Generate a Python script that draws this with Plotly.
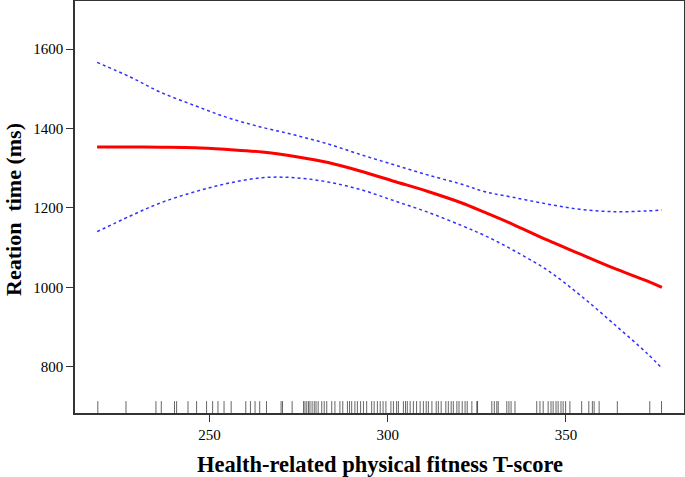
import plotly.graph_objects as go

# Fitted curve and confidence band
x_curve = [218.5, 227.8, 236.2, 246.0, 255.2, 264.8, 274.0, 283.3, 292.8, 302.0,
           311.3, 320.8, 327.3, 335.1, 344.7, 353.9, 363.2, 372.7, 376.9]
fit = [1353.5, 1353.5, 1353.0, 1351.7, 1347.2, 1340.9, 1329.6, 1314.5, 1291.8, 1266.7,
       1241.5, 1212.6, 1188.7, 1159.0, 1119.5, 1084.3, 1049.1, 1016.4, 1000.0]
upper = [1566.5, 1529.6, 1491.8, 1457.4, 1427.2, 1403.0, 1383.6, 1361.0, 1333.3, 1308.2,
         1283.0, 1259.6, 1241.0, 1226.9, 1210.1, 1196.7, 1190.7, 1192.5, 1195.0]
lower = [1140.4, 1179.9, 1212.6, 1241.0, 1262.1, 1276.2, 1276.2, 1265.3, 1245.3, 1217.6,
         1189.2, 1155.5, 1130.3, 1094.3, 1044.0, 981.1, 909.9, 834.5, 796.8]

# Rug (observed T-scores)
rug_x = [218.7, 226.6, 235.0, 236.5, 240.2, 240.8, 244.0, 246.4, 249.2, 250.9, 252.4, 254.1,
         256.1, 260.2, 261.5, 262.8, 264.1, 266.0, 270.1, 270.5, 273.2, 276.4, 276.8, 277.3,
         277.8, 278.2, 278.8, 279.4, 279.9, 280.5, 281.5, 282.2, 282.9, 284.3, 285.2, 286.6,
         287.4, 288.7, 289.3, 289.9, 290.8, 291.5, 292.4, 293.2, 294.1, 295.5, 296.2, 297.1,
         297.9, 298.7, 299.5, 300.9, 301.6, 302.5, 303.0, 304.4, 305.0, 305.5, 306.3, 307.2,
         308.1, 309.1, 310.0, 310.8, 311.4, 312.4, 313.6, 314.2, 315.0, 316.3, 317.0, 317.8,
         318.4, 319.4, 320.0, 320.9, 321.7, 322.3, 323.6, 325.0, 325.2, 329.2, 329.9, 330.6,
         331.0, 333.4, 334.0, 334.6, 335.7, 341.8, 342.7, 343.6, 345.0, 345.8, 346.4, 347.2,
         347.8, 348.6, 349.2, 349.9, 351.1, 354.4, 356.4, 357.4, 357.9, 359.3, 364.4, 373.5,
         376.8]
rug_base = 684
rug_top = 714

x_ticks = [250, 300, 350]
y_ticks = [800, 1000, 1200, 1400, 1600]

x_title = "Health-related physical fitness T-score"
y_title = "Reation\u00a0 time (ms)"

FONT = "Liberation Serif"

rx, ry = [], []
for v in rug_x:
    rx += [v, v, None]
    ry += [rug_base, rug_top, None]

fig = go.Figure()
fig.add_trace(go.Scatter(x=rx, y=ry, mode="lines",
                         line=dict(color="rgba(0,0,0,0.6)", width=1),
                         hoverinfo="skip", showlegend=False))
fig.add_trace(go.Scatter(x=x_curve, y=upper, mode="lines", line_shape="spline",
                         line=dict(color="rgb(50,50,255)", width=1.5, dash="dot"),
                         showlegend=False))
fig.add_trace(go.Scatter(x=x_curve, y=lower, mode="lines", line_shape="spline",
                         line=dict(color="rgb(50,50,255)", width=1.5, dash="dot"),
                         showlegend=False))
fig.add_trace(go.Scatter(x=x_curve, y=fit, mode="lines", line_shape="spline",
                         line=dict(color="rgb(255,0,0)", width=3),
                         showlegend=False))

fig.update_layout(
    template="none",
    width=685, height=477,
    margin=dict(l=75, r=1, t=1, b=64, autoexpand=False),
    paper_bgcolor="white", plot_bgcolor="white",
    font=dict(family=FONT, color="black", size=13),
    annotations=[
        dict(text="<b>" + x_title + "</b>", xref="paper", yref="paper",
             x=0.5, y=-0.126, xanchor="center", yanchor="middle",
             showarrow=False, font=dict(family=FONT, size=22.5, color="black")),
        dict(text="<b>" + y_title + "</b>", xref="paper", yref="paper",
             x=-0.102, y=0.495, xanchor="center", yanchor="middle", textangle=-90,
             showarrow=False, font=dict(family=FONT, size=22, color="black")),
    ],
)
fig.update_xaxes(
    automargin=False,
    range=[212.3, 383.1], tickvals=x_ticks, ticks="outside", ticklen=7,
    tickcolor="#333", tickwidth=1, showgrid=False, zeroline=False,
    showline=True, linecolor="#333", linewidth=1.5, mirror=True,
    tickfont=dict(family=FONT, size=15, color="black"),
)
fig.update_yaxes(
    automargin=False,
    range=[684, 1721], tickvals=y_ticks, ticks="outside", ticklen=7,
    tickcolor="#333", tickwidth=1, showgrid=False, zeroline=False,
    showline=True, linecolor="#333", linewidth=1.5, mirror=True,
    tickfont=dict(family=FONT, size=15, color="black"),
)

fig.write_html(
    "out.html",
    config={"displayModeBar": False},
    post_script="document.body.style.margin='0';document.body.style.overflow='hidden';",
)
